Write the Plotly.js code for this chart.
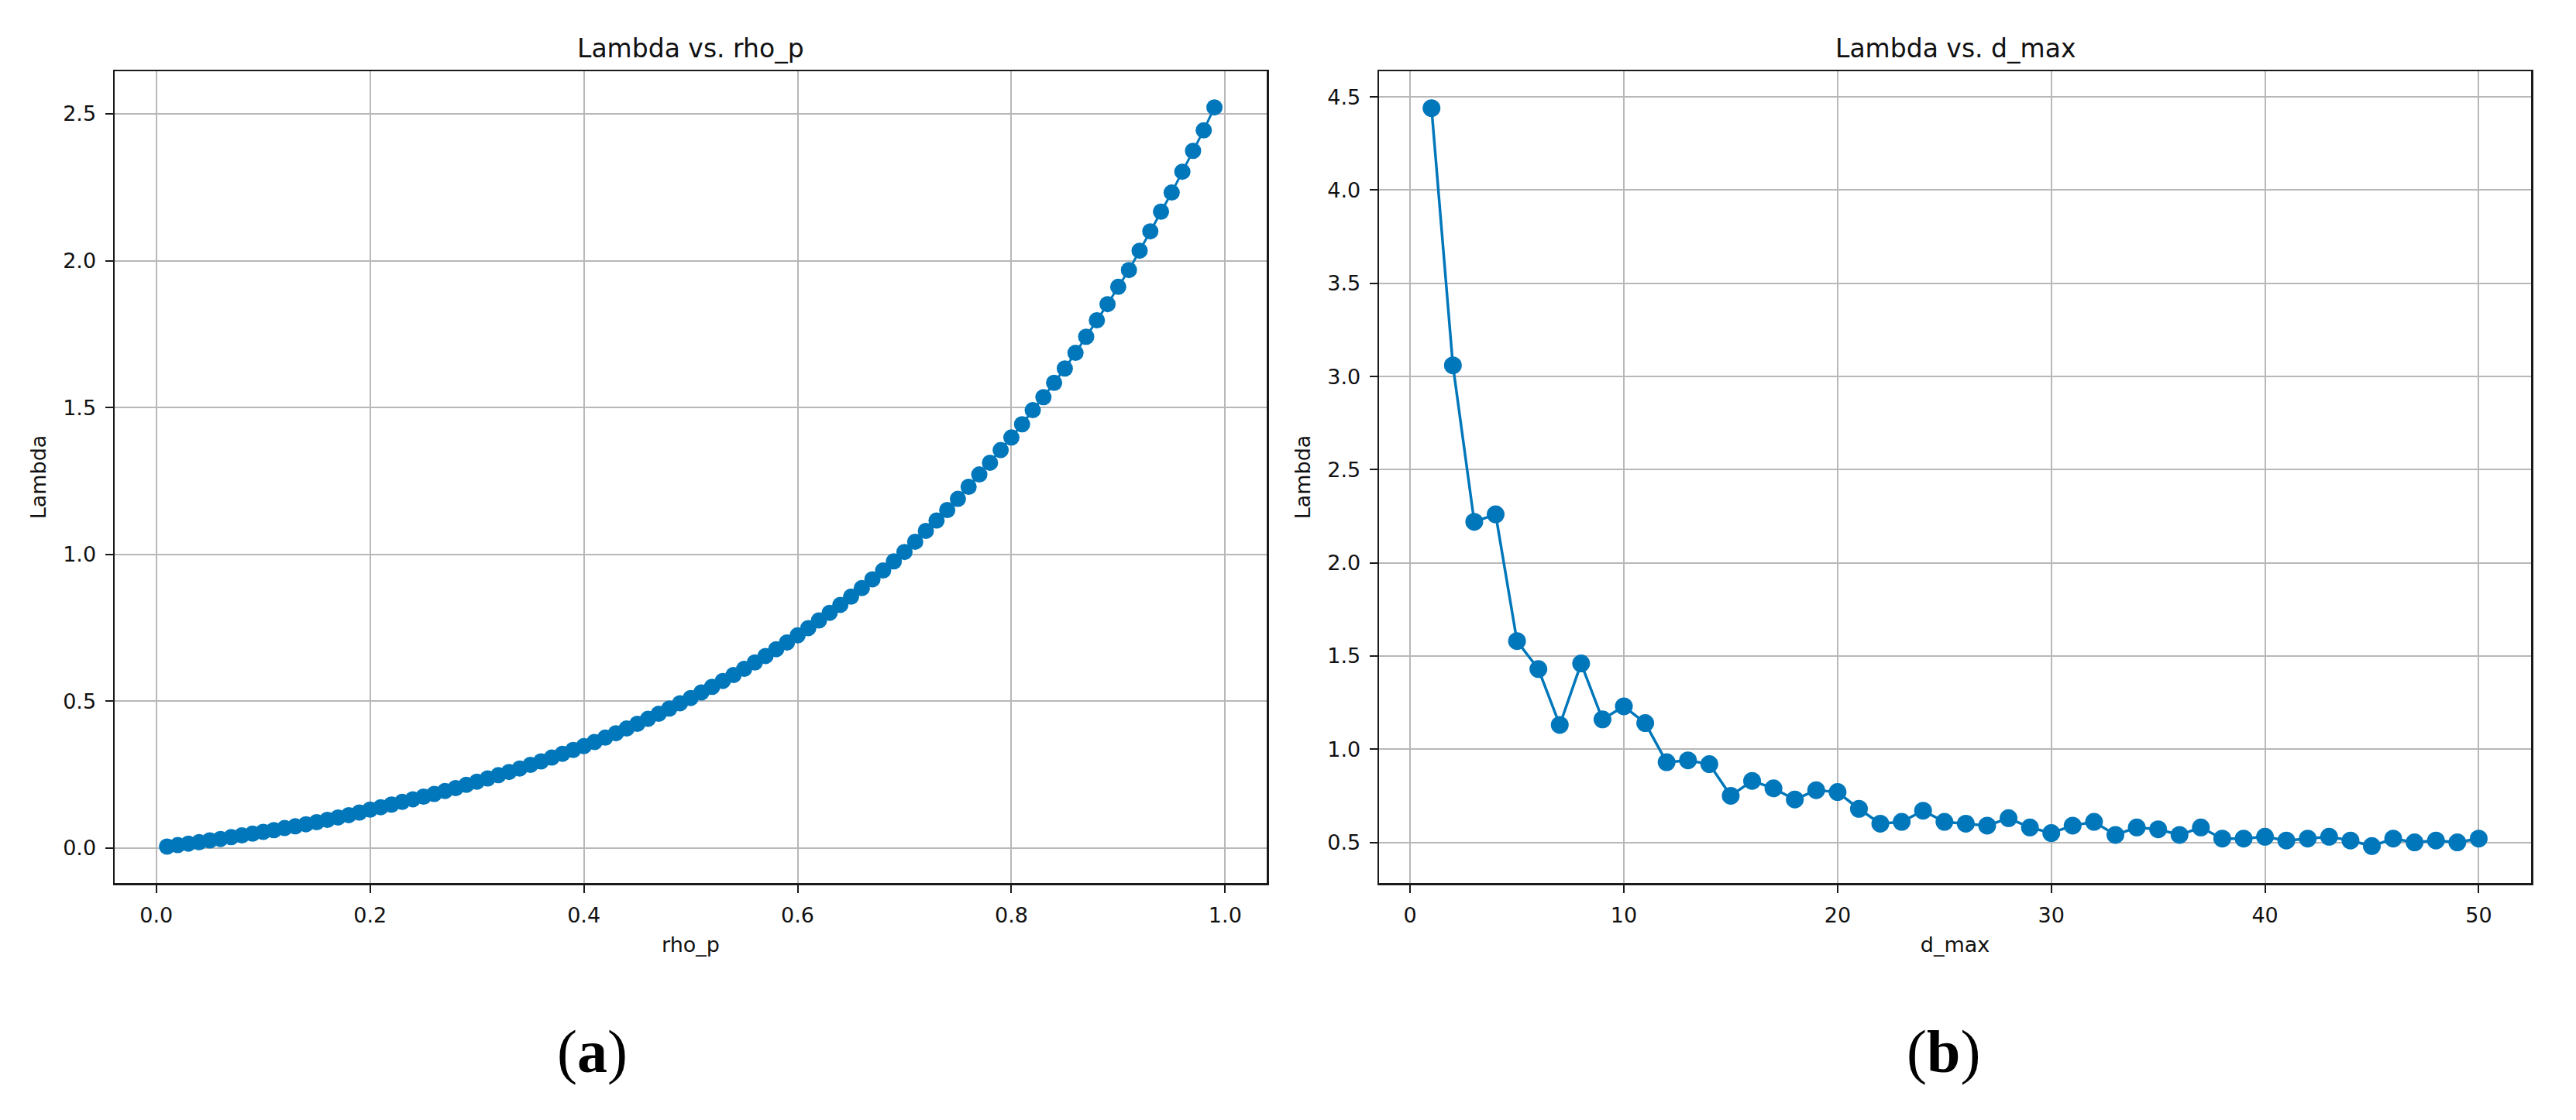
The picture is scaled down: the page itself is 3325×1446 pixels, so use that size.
<!DOCTYPE html>
<html>
<head>
<meta charset="utf-8">
<script src="https://cdn.plot.ly/plotly-3.0.1.min.js"></script>
<style>
  html, body { margin: 0; padding: 0; background: #fff; }
  #chart { width: 3325px; height: 1446px; }
</style>
</head>
<body>
<div id="chart"></div>
<script>
// panel (a): Lambda vs. rho_p
var rhoP = [];
for (var i = 1; i <= 99; i++) rhoP.push(i / 100);
var lambdaRho = [
  0.005, 0.010, 0.015, 0.020, 0.026, 0.031, 0.037, 0.043, 0.049, 0.055,
  0.061, 0.068, 0.074, 0.081, 0.088, 0.096, 0.104, 0.112, 0.121, 0.131,
  0.139, 0.148, 0.157, 0.166, 0.175, 0.184, 0.194, 0.204, 0.215, 0.226,
  0.237, 0.248, 0.259, 0.271, 0.283, 0.295, 0.308, 0.321, 0.334, 0.347,
  0.361, 0.376, 0.391, 0.407, 0.423, 0.440, 0.457, 0.475, 0.493, 0.511,
  0.530, 0.549, 0.569, 0.589, 0.610, 0.632, 0.654, 0.677, 0.700, 0.724,
  0.749, 0.775, 0.801, 0.828, 0.856, 0.885, 0.915, 0.945, 0.976, 1.008,
  1.043, 1.080, 1.115, 1.151, 1.189, 1.230, 1.272, 1.312, 1.355, 1.398,
  1.443, 1.491, 1.535, 1.584, 1.633, 1.686, 1.741, 1.797, 1.852, 1.911,
  1.968, 2.034, 2.100, 2.167, 2.232, 2.303, 2.374, 2.444, 2.522
];

// panel (b): Lambda vs. d_max
var dMax = [];
for (var j = 1; j <= 50; j++) dMax.push(j);
var lambdaD = [
  4.44, 3.06, 2.22, 2.26, 1.58, 1.43, 1.13, 1.46, 1.16, 1.23,
  1.14, 0.93, 0.94, 0.92, 0.75, 0.83, 0.79, 0.73, 0.78, 0.77,
  0.68, 0.60, 0.61, 0.67, 0.61, 0.60, 0.59, 0.63, 0.58, 0.55,
  0.59, 0.61, 0.54, 0.58, 0.57, 0.54, 0.58, 0.52, 0.52, 0.53,
  0.51, 0.52, 0.53, 0.51, 0.48, 0.52, 0.50, 0.51, 0.50, 0.52
];

var blue = "#0077bb";
var font = "DejaVu Sans, sans-serif";

var traceA = {
  x: rhoP, y: lambdaRho,
  type: "scatter", mode: "lines+markers",
  line: { color: blue, width: 3 },
  marker: { color: blue, size: 21 },
  xaxis: "x", yaxis: "y"
};
var traceB = {
  x: dMax, y: lambdaD,
  type: "scatter", mode: "lines+markers",
  line: { color: blue, width: 3.5 },
  marker: { color: blue, size: 23 },
  xaxis: "x2", yaxis: "y2"
};

var axisBase = {
  showline: true, mirror: true, linecolor: "#1a1a1a", linewidth: 2.5,
  ticks: "outside", ticklen: 10, tickwidth: 2, tickcolor: "#1a1a1a",
  showgrid: true, gridcolor: "#b8b8b8", gridwidth: 2,
  zeroline: false,
  tickfont: { family: font, size: 27, color: "#111" },
  ticklabelstandoff: 6
};
function ax(extra) {
  return Object.assign({}, axisBase, extra);
}

var layout = {
  width: 3325, height: 1446,
  margin: { l: 148, r: 58, t: 92, b: 306 },
  paper_bgcolor: "#fff", plot_bgcolor: "#fff",
  showlegend: false,
  font: { family: font, color: "#111" },
  xaxis: ax({
    domain: [0, 0.4768], anchor: "y",
    range: [-0.039, 1.039], tick0: 0, dtick: 0.2, tickformat: ".1f",
    title: { text: "rho_p", font: { family: font, size: 27 }, standoff: 14 }
  }),
  yaxis: ax({
    domain: [0, 1], anchor: "x",
    range: [-0.119, 2.645], tick0: 0, dtick: 0.5, tickformat: ".1f",
    title: { text: "Lambda", font: { family: font, size: 27 }, standoff: 14 }
  }),
  xaxis2: ax({
    domain: [0.5233, 1], anchor: "y2",
    range: [-1.45, 52.45], tick0: 0, dtick: 10,
    title: { text: "d_max", font: { family: font, size: 27 }, standoff: 14 }
  }),
  yaxis2: ax({
    domain: [0, 1], anchor: "x2",
    range: [0.282, 4.638], tick0: 0.5, dtick: 0.5, tickformat: ".1f",
    title: { text: "Lambda", font: { family: font, size: 27 }, standoff: 14 }
  }),
  annotations: [
    { text: "Lambda vs. rho_p", xref: "x domain", yref: "paper", x: 0.5, y: 1,
      xanchor: "center", yanchor: "bottom", yshift: 8, showarrow: false,
      font: { family: font, size: 33, color: "#111" } },
    { text: "Lambda vs. d_max", xref: "x2 domain", yref: "paper", x: 0.5, y: 1,
      xanchor: "center", yanchor: "bottom", yshift: 8, showarrow: false,
      font: { family: font, size: 33, color: "#111" } },
    { text: "(<b>a</b>)", xref: "paper", yref: "paper", x: 0.1975, y: -0.208,
      xanchor: "center", yanchor: "middle", showarrow: false,
      font: { family: "Liberation Serif, Times New Roman, serif", size: 78, color: "#000" } },
    { text: "(<b>b</b>)", xref: "paper", yref: "paper", x: 0.7567, y: -0.208,
      xanchor: "center", yanchor: "middle", showarrow: false,
      font: { family: "Liberation Serif, Times New Roman, serif", size: 78, color: "#000" } }
  ]
};

Plotly.newPlot("chart", [traceA, traceB], layout, { staticPlot: true, displayModeBar: false });
</script>
</body>
</html>
